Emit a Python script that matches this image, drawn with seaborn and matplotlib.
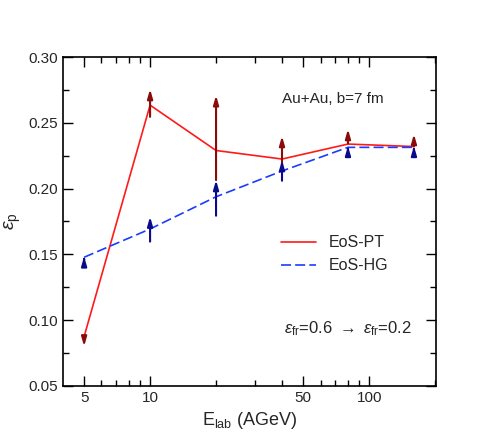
import matplotlib
matplotlib.use("Agg")
import matplotlib.pyplot as plt
import seaborn as sns
import pandas as pd
from matplotlib.ticker import FixedLocator, NullFormatter, MultipleLocator

sns.set_theme(style="ticks")
plt.rcParams['font.family'] = ['Liberation Sans', 'DejaVu Sans']
plt.rcParams['mathtext.fontset'] = 'custom'
plt.rcParams['mathtext.rm'] = 'Liberation Sans'
plt.rcParams['mathtext.it'] = 'Liberation Sans:italic'

elab = [5, 10, 20, 40, 80, 160]
pt_line = [0.0875, 0.2635, 0.229, 0.2225, 0.2339, 0.232]
pt_start = [0.087, 0.2546, 0.2065, 0.2157, 0.2344, 0.2324]
pt_end = [0.080, 0.2757, 0.271, 0.240, 0.2453, 0.2415]
hg_line = [0.1478, 0.1693, 0.1938, 0.2134, 0.2314, 0.2314]
hg_start = [0.146, 0.1597, 0.1794, 0.206, 0.2295, 0.2295]
hg_end = [0.1485, 0.1787, 0.2065, 0.2217, 0.2325, 0.2325]

df = pd.DataFrame({"E": elab * 2, "eps": pt_line + hg_line,
                   "EoS": ["EoS-PT"] * 6 + ["EoS-HG"] * 6})

fig = plt.figure(figsize=(4.99, 4.43), dpi=100)
ax = fig.add_axes([0.126, 0.129, 0.748, 0.742])
ax.set_xscale("log")
sns.lineplot(data=df, x="E", y="eps", hue="EoS", style="EoS",
             palette={"EoS-PT": "#ff1a1a", "EoS-HG": "#1a3cff"},
             dashes={"EoS-PT": "", "EoS-HG": (6, 2.5)}, lw=1.2, ax=ax)

astyle = "-|>,head_length=0.45,head_width=0.13"
for x, s, e in zip(elab, pt_start, pt_end):
    ax.annotate("", xy=(x, e), xytext=(x, s),
                arrowprops=dict(arrowstyle=astyle, color="#8b0a0a", lw=1.5, shrinkA=0, shrinkB=0))
for x, s, e in zip(elab, hg_start, hg_end):
    ax.annotate("", xy=(x, e), xytext=(x, s),
                arrowprops=dict(arrowstyle=astyle, color="#0a0a8b", lw=1.5, shrinkA=0, shrinkB=0))

ax.set_xlim(4, 202)
ax.set_ylim(0.05, 0.30)
ax.xaxis.set_major_locator(FixedLocator([5, 10, 50, 100]))
ax.set_xticklabels(["5", "10", "50", "100"])
ax.xaxis.set_minor_locator(FixedLocator([6, 7, 8, 9, 20, 30, 40, 60, 70, 80, 90, 200]))
ax.xaxis.set_minor_formatter(NullFormatter())
ax.yaxis.set_major_locator(MultipleLocator(0.05))
ax.yaxis.set_minor_locator(MultipleLocator(0.025))
ax.yaxis.set_major_formatter(matplotlib.ticker.FormatStrFormatter("%.2f"))
ax.tick_params(which="both", direction="in", top=True, right=True, labelsize=11, color="black")
ax.tick_params(which="major", length=7, width=1)
ax.tick_params(which="minor", length=4, width=1)
for sp in ax.spines.values():
    sp.set_linewidth(1.2)
    sp.set_color("black")

ax.set_xlabel(r"E$_{\rm lab}$ (AGeV)", fontsize=13)
ax.set_ylabel(r"$\epsilon_{\rm p}$", fontsize=14)
ax.text(0.86, 0.86, "Au+Au, b=7 fm", transform=ax.transAxes, ha="right", fontsize=11)
ax.text(0.935, 0.16, r"$\varepsilon_{\rm fr}$=0.6 $\rightarrow$ $\varepsilon_{\rm fr}$=0.2",
        transform=ax.transAxes, ha="right", fontsize=12)
ax.legend(title=None, frameon=False, loc="center right",
          bbox_to_anchor=(0.91, 0.40), fontsize=11.5, handlelength=2.2)
fig.savefig("out.png", dpi=100)
